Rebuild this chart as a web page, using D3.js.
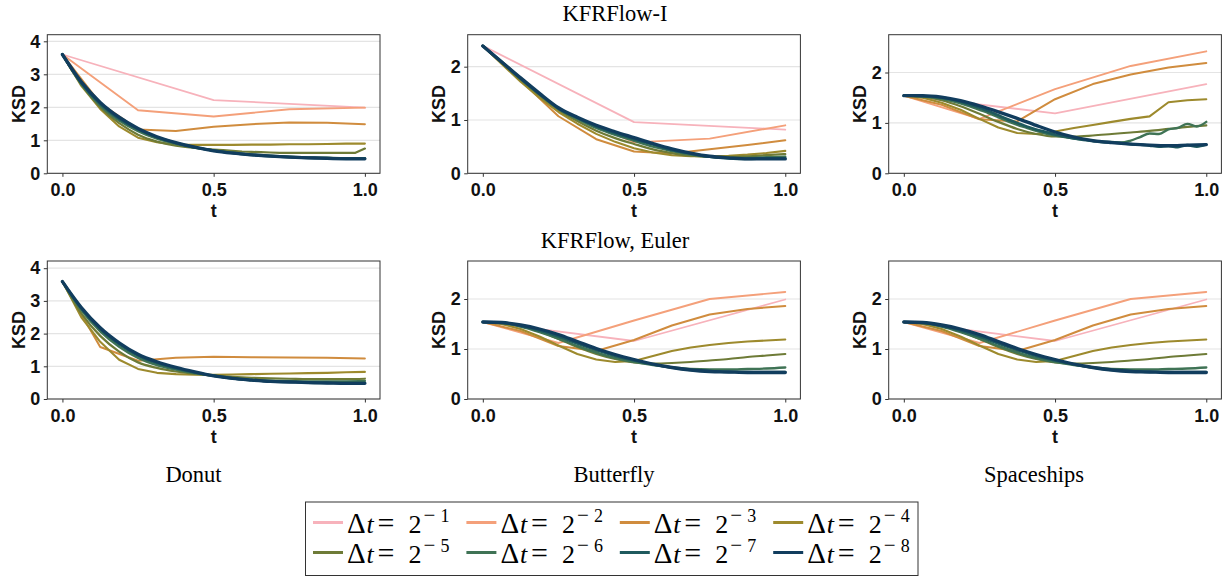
<!DOCTYPE html>
<html>
<head>
<meta charset="utf-8">
<script src="https://cdn.jsdelivr.net/npm/d3@7"></script>
<style>
  body { margin: 0; background: #fff; }
  svg { display: block; }
</style>
</head>
<body>
<svg id="fig" width="1222" height="576"></svg>
<script>
// ---- categories and labels ----
const datasets = ["Donut", "Butterfly", "Spaceships"];
const methods = ["KFRFlow-I", "KFRFlow, Euler"];
const stepExponents = [1, 2, 3, 4, 5, 6, 7, 8];           // Δt = 2^-k
const seriesColors = ["#f7b2bb", "#f4a07a", "#d08c3e", "#9d8a2d",
                      "#6e7b37", "#3f7355", "#1f5a5e", "#113d5e"];
const xTicks = [0, 0.5, 1];
const xTickLabels = ["0.0", "0.5", "1.0"];
const yTicksDonut = [0, 1, 2, 3, 4];
const yTicksOther = [0, 1, 2];
const yLimits = [[4.2, 2.6, 2.75], [4.22, 2.76, 2.76]];

// ---- KSD values over t in [0, 1]; each list is evenly spaced in t, null = diverged ----
const donutFlowI = [
  [3.6, 2.22, 1.99],
  [3.6, 1.91, 1.72, 1.94, 1.99],
  [3.6, 2.12, 1.33, 1.28, 1.41, 1.49, 1.54, 1.53, 1.49],
  [3.6, 2.65, 1.95, 1.42, 1.08, 0.94, 0.87, 0.86, 0.86, 0.86, 0.87, 0.87, 0.88, 0.88, 0.89, 0.9, 0.9],
  [3.6, 3.12, 2.7, 2.33, 2.0, 1.74, 1.52, 1.33, 1.17, 1.05, 0.96, 0.89, 0.84, 0.8, 0.77, 0.74, 0.72,
   0.7, 0.68, 0.66, 0.65, 0.64, 0.63, 0.62, 0.62, 0.62, 0.62, 0.62, 0.62, 0.62, 0.62, 0.62, 0.75],
  [3.6, 2.7, 2.05, 1.6, 1.28, 1.05, 0.89, 0.78, 0.69, 0.62, 0.57, 0.53, 0.5, 0.48, 0.47, 0.46, 0.46],
  [3.6, 2.74, 2.11, 1.66, 1.33, 1.09, 0.92, 0.79, 0.69, 0.62, 0.56, 0.52, 0.49, 0.47, 0.46, 0.45, 0.45],
  [3.6, 2.77, 2.15, 1.7, 1.36, 1.11, 0.93, 0.79, 0.68, 0.61, 0.56, 0.52, 0.49, 0.47, 0.45, 0.44, 0.44]
];
const butterflyFlowI = [
  [2.39, 0.96, 0.82],
  [2.39, 1.2, 0.58, 0.65, 0.9],
  [2.39, 1.74, 1.07, 0.64, 0.41, 0.37, 0.45, 0.53, 0.62],
  [2.39, 2.05, 1.72, 1.42, 1.15, 0.93, 0.74, 0.59, 0.47, 0.39, 0.34, 0.32, 0.32, 0.33, 0.35, 0.38, 0.42],
  [2.39, 2.07, 1.75, 1.46, 1.19, 0.98, 0.8, 0.66, 0.55, 0.45, 0.38, 0.33, 0.31, 0.31, 0.32, 0.34, 0.36],
  [2.39, 2.08, 1.77, 1.48, 1.21, 1.02, 0.85, 0.72, 0.61, 0.5, 0.42, 0.35, 0.31, 0.29, 0.29, 0.3, 0.31],
  [2.39, 2.09, 1.78, 1.49, 1.22, 1.04, 0.88, 0.75, 0.64, 0.54, 0.44, 0.37, 0.31, 0.28, 0.27, 0.28, 0.28],
  [2.39, 2.09, 1.79, 1.5, 1.23, 1.05, 0.9, 0.78, 0.67, 0.56, 0.46, 0.38, 0.32, 0.29, 0.27, 0.27, 0.27]
];
const spaceshipsFlowI = [
  [1.54, 1.19, 1.77],
  [1.54, 1.08, 1.67, 2.13, 2.42],
  [1.54, 1.36, 1.07, 1.03, 1.47, 1.77, 1.96, 2.1, 2.19],
  [1.54, 1.5, 1.4, 1.26, 1.08, 0.91, 0.8, 0.78, 0.83, 0.9, 0.96, 1.02, 1.08, 1.13, 1.41, 1.45, 1.47],
  [1.54, 1.52, 1.45, 1.33, 1.18, 1.02, 0.88, 0.78, 0.73, 0.73, 0.75, 0.78, 0.81, 0.84, 0.88, 0.92, 0.95],
  [1.54, 1.54, 1.53, 1.51, 1.48, 1.44, 1.39, 1.33, 1.26, 1.19, 1.11, 1.03, 0.96, 0.9, 0.84, 0.79, 0.75,
   0.72, 0.69, 0.67, 0.65, 0.63, 0.62, 0.61, 0.65, 0.72, 0.79, 0.78, 0.87, 0.9, 0.98, 0.93, 1.02],
  [1.54, 1.54, 1.53, 1.52, 1.5, 1.47, 1.42, 1.36, 1.3, 1.23, 1.15, 1.07, 1.0, 0.93, 0.87, 0.82, 0.77,
   0.73, 0.69, 0.66, 0.64, 0.62, 0.61, 0.6, 0.58, 0.57, 0.55, 0.53, 0.54, 0.52, 0.56, 0.53, 0.57],
  [1.54, 1.54, 1.51, 1.44, 1.34, 1.22, 1.09, 0.95, 0.82, 0.72, 0.65, 0.61, 0.58, 0.56, 0.55, 0.56, 0.57]
];
const donutEuler = [
  null,
  null,
  [3.59, 1.59, 1.17, 1.26, 1.29, 1.28, 1.27, 1.26, 1.24],
  [3.59, 2.5, 1.75, 1.2, 0.92, 0.8, 0.76, 0.74, 0.74, 0.75, 0.76, 0.77, 0.78, 0.79, 0.8, 0.82, 0.83],
  [3.59, 2.62, 1.93, 1.45, 1.12, 0.95, 0.84, 0.77, 0.72, 0.68, 0.65, 0.63, 0.62, 0.61, 0.61, 0.61, 0.62],
  [3.59, 2.72, 2.07, 1.6, 1.26, 1.04, 0.9, 0.79, 0.71, 0.64, 0.59, 0.56, 0.55, 0.54, 0.54, 0.54, 0.55],
  [3.59, 2.77, 2.14, 1.68, 1.33, 1.1, 0.94, 0.81, 0.71, 0.63, 0.58, 0.54, 0.52, 0.5, 0.49, 0.49, 0.49],
  [3.59, 2.8, 2.18, 1.72, 1.37, 1.14, 0.97, 0.83, 0.71, 0.63, 0.58, 0.54, 0.52, 0.5, 0.49, 0.48, 0.48]
];
const butterflyEuler = [
  [1.54, 1.16, 1.99],
  [1.54, 1.12, 1.57, 2.0, 2.14],
  [1.54, 1.36, 1.06, 0.96, 1.18, 1.47, 1.69, 1.8, 1.86],
  [1.54, 1.5, 1.4, 1.25, 1.07, 0.9, 0.79, 0.74, 0.76, 0.86, 0.96, 1.03, 1.08, 1.12, 1.15, 1.17, 1.19],
  [1.54, 1.52, 1.46, 1.35, 1.2, 1.04, 0.9, 0.8, 0.73, 0.71, 0.72, 0.74, 0.77, 0.8, 0.84, 0.87, 0.9],
  [1.54, 1.52, 1.45, 1.34, 1.21, 1.06, 0.93, 0.82, 0.74, 0.68, 0.63, 0.6, 0.59, 0.59, 0.6, 0.61, 0.63],
  [1.54, 1.53, 1.46, 1.37, 1.25, 1.11, 0.98, 0.86, 0.77, 0.69, 0.63, 0.58, 0.56, 0.54, 0.54, 0.54, 0.54],
  [1.54, 1.53, 1.48, 1.4, 1.29, 1.15, 1.01, 0.89, 0.79, 0.7, 0.63, 0.58, 0.55, 0.54, 0.53, 0.53, 0.53]
];
const spaceshipsEuler = [
  [1.54, 1.16, 1.99],
  [1.54, 1.12, 1.57, 2.0, 2.14],
  [1.54, 1.36, 1.06, 0.96, 1.18, 1.47, 1.69, 1.8, 1.86],
  [1.54, 1.5, 1.4, 1.25, 1.07, 0.9, 0.79, 0.74, 0.76, 0.86, 0.96, 1.03, 1.08, 1.12, 1.15, 1.17, 1.19],
  [1.54, 1.52, 1.46, 1.35, 1.2, 1.04, 0.9, 0.8, 0.73, 0.71, 0.72, 0.74, 0.77, 0.8, 0.84, 0.87, 0.9],
  [1.54, 1.52, 1.45, 1.34, 1.21, 1.06, 0.93, 0.82, 0.74, 0.68, 0.63, 0.6, 0.59, 0.59, 0.6, 0.61, 0.63],
  [1.54, 1.53, 1.46, 1.37, 1.25, 1.11, 0.98, 0.86, 0.77, 0.69, 0.63, 0.58, 0.56, 0.54, 0.54, 0.54, 0.54],
  [1.54, 1.53, 1.48, 1.4, 1.29, 1.15, 1.01, 0.89, 0.79, 0.7, 0.63, 0.58, 0.55, 0.54, 0.53, 0.53, 0.53]
];

const panelData = [
  [donutFlowI, butterflyFlowI, spaceshipsFlowI],
  [donutEuler, butterflyEuler, spaceshipsEuler]
];

// ---- layout ----
const svg = d3.select("#fig");
const colLeft = [47.3, 467.7, 888.7];
const plotW = 332.7;
const rowTop = [34.7, 261];
const plotH = [138.6, 138];
const tickFont = "'Liberation Sans', Arial, Helvetica, sans-serif";
const serifFont = "'Liberation Serif', 'Times New Roman', serif";
const lineWidths = [1.8, 1.9, 2.0, 2.1, 2.2, 2.4, 2.7, 3.3];

const defs = svg.append("defs");

panelData.forEach((row, r) => {
  row.forEach((series, c) => {
    const x0 = colLeft[c], y0 = rowTop[r], h = plotH[r];
    const x = d3.scaleLinear().domain([-0.05, 1.05]).range([x0, x0 + plotW]);
    const y = d3.scaleLinear().domain([0, yLimits[r][c]]).range([y0 + h, y0]);
    const yTicks = c === 0 ? yTicksDonut : yTicksOther;
    const g = svg.append("g");

    // horizontal grid
    g.selectAll("line.grid").data(yTicks).join("line")
      .attr("x1", x0).attr("x2", x0 + plotW)
      .attr("y1", d => y(d)).attr("y2", d => y(d))
      .attr("stroke", "#e4e4e4").attr("stroke-width", 1.2);

    // clipped series
    const clipId = `clip-${r}-${c}`;
    defs.append("clipPath").attr("id", clipId)
      .append("rect").attr("x", x0).attr("y", y0).attr("width", plotW).attr("height", h);
    const lines = g.append("g").attr("clip-path", `url(#${clipId})`);
    series.forEach((vals, i) => {
      if (!vals) return;
      const n = vals.length - 1;
      const pts = vals.map((v, k) => [k / n, v]);
      const fullGrid = n === Math.pow(2, stepExponents[i]);
      const line = d3.line()
        .x(d => x(d[0])).y(d => y(d[1]))
        .curve(fullGrid ? d3.curveLinear : d3.curveMonotoneX);
      lines.append("path").datum(pts)
        .attr("d", line)
        .attr("fill", "none")
        .attr("stroke", seriesColors[i])
        .attr("stroke-width", lineWidths[i])
        .attr("stroke-linejoin", "round")
        .attr("stroke-linecap", "round");
    });

    // frame
    g.append("rect").attr("x", x0).attr("y", y0).attr("width", plotW).attr("height", h)
      .attr("fill", "none").attr("stroke", "#333").attr("stroke-width", 1);

    // axes
    const xAxis = d3.axisBottom(x).tickValues(xTicks)
      .tickFormat((d, i) => xTickLabels[i]).tickSize(3.5).tickPadding(6.5);
    const yAxis = d3.axisLeft(y).tickValues(yTicks)
      .tickFormat(d3.format("d")).tickSize(3.5).tickPadding(3.5);
    const gx = g.append("g").attr("transform", `translate(0,${y0 + h})`).call(xAxis);
    const gy = g.append("g").attr("transform", `translate(${x0},0)`).call(yAxis);
    [gx, gy].forEach(a => {
      a.select(".domain").remove();
      a.selectAll(".tick line").attr("stroke", "#333");
      a.selectAll("text").attr("font-family", tickFont).attr("font-weight", "bold")
        .attr("font-size", 18).attr("fill", "#111");
    });

    // axis titles
    g.append("text").attr("x", x0 + plotW / 2).attr("y", y0 + h + 43.5)
      .attr("text-anchor", "middle").attr("font-family", tickFont).attr("font-weight", "bold")
      .attr("font-size", 18).attr("fill", "#111").text("t");
    g.append("text")
      .attr("transform", `translate(${x0 - 28.5},${y0 + h / 2}) rotate(-90)`)
      .attr("text-anchor", "middle").attr("dominant-baseline", "central")
      .attr("font-family", tickFont).attr("font-weight", "bold")
      .attr("font-size", 18).attr("fill", "#111").text("KSD");
  });
});

// row titles
const titleY = [21, 248];
methods.forEach((m, r) => {
  svg.append("text").attr("x", 615).attr("y", titleY[r]).attr("text-anchor", "middle")
    .attr("font-family", serifFont).attr("font-size", 22.5).attr("fill", "#000").text(m);
});

// dataset labels
const datasetX = [193.5, 614, 1034];
datasets.forEach((d, c) => {
  svg.append("text").attr("x", datasetX[c]).attr("y", 482).attr("text-anchor", "middle")
    .attr("font-family", serifFont).attr("font-size", 22.5).attr("fill", "#000").text(d);
});

// legend
const legend = svg.append("g");
legend.append("rect").attr("x", 305.5).attr("y", 502).attr("width", 612.5).attr("height", 73.5)
  .attr("fill", "#fff").attr("stroke", "#333").attr("stroke-width", 1);
stepExponents.forEach((k, i) => {
  const col = i % 4, row = Math.floor(i / 4);
  const hx = 313 + col * 153.4;
  const base = 533 + row * 30;
  legend.append("line").attr("x1", hx).attr("x2", hx + 30)
    .attr("y1", base - 10.5).attr("y2", base - 10.5)
    .attr("stroke", seriesColors[i]).attr("stroke-width", 3);
  const t = legend.append("text").attr("y", base)
    .attr("font-family", serifFont).attr("font-size", 26).attr("fill", "#000");
  t.append("tspan").attr("x", hx + 34).attr("font-size", 29).text("Δ");
  t.append("tspan").attr("x", hx + 53.5).attr("font-style", "italic").text("t");
  t.append("tspan").attr("x", hx + 64.5).attr("font-size", 30).text("=");
  t.append("tspan").attr("x", hx + 95.5).text("2");
  t.append("tspan").attr("x", hx + 110.5).attr("dy", -11).attr("font-size", 21).text("−");
  t.append("tspan").attr("x", hx + 127.5).attr("font-size", 18).text(String(k));
});
</script>
</body>
</html>
